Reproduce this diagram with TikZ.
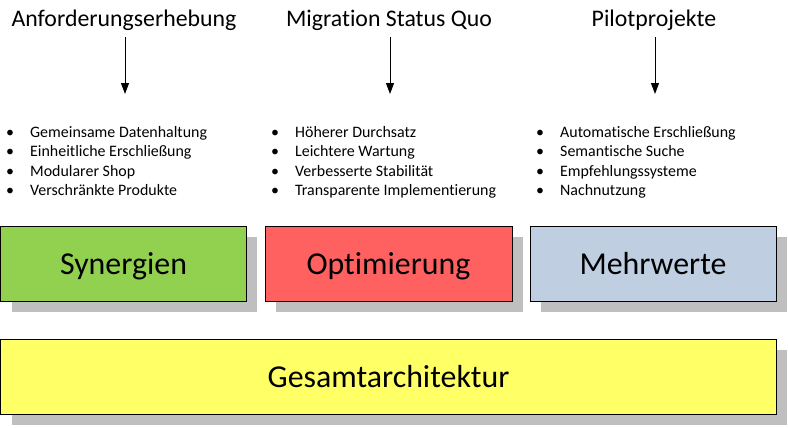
\documentclass[tikz,border=0pt]{standalone}
\usepackage{fontspec}
\setmainfont{Carlito}[Ligatures={NoCommon}]
\usetikzlibrary{arrows.meta,shadows}
\definecolor{cgreen}{HTML}{92D050}
\definecolor{cred}{HTML}{FF6161}
\definecolor{cblue}{HTML}{BFCFE1}
\definecolor{cyellow}{HTML}{FFFF66}
\definecolor{cshadow}{HTML}{BFBFBF}
\tikzset{
  pillar/.style={draw=black, line width=1bp, minimum height=75bp, inner sep=0pt,
    font=\fontsize{32}{36}\selectfont, text height=21bp, text depth=0bp,
    general shadow={fill=cshadow, shadow xshift=11bp, shadow yshift=-11bp}},
  title/.style={font=\fontsize{23.9}{26}\selectfont, inner sep=0pt, anchor=base},
  blist/.style={font=\fontsize{16}{19.5}\selectfont, align=left, anchor=north west, inner sep=0pt},
  arr/.style={-{Triangle[length=11bp,width=8bp]}, line width=1bp}
}
\newcommand{\bl}[1]{\makebox[24bp][l]{•}#1}
\begin{document}
\begin{tikzpicture}[x=1bp,y=-1bp]
\useasboundingbox (0,0) rectangle (788,427);
% titles
\node[title] (t1) at (124,26) {Anforderungserhebung};
\node[title] (t2) at (389,26) {Migration Status Quo};
\node[title] (t3) at (654,26) {Pilotprojekte};
% arrows
\coordinate (a1s) at (125,37); \coordinate (a1e) at (125,94);
\coordinate (a2s) at (390,37); \coordinate (a2e) at (390,94);
\coordinate (a3s) at (655,37); \coordinate (a3e) at (655,94);
\draw[arr] (a1s) -- (a1e);
\draw[arr] (a2s) -- (a2e);
\draw[arr] (a3s) -- (a3e);
% lists
\node[blist] (l1) at (6,126) {\bl{Gemeinsame Datenhaltung}\\\bl{Einheitliche Erschließung}\\\bl{Modularer Shop}\\\bl{Verschränkte Produkte}};
\node[blist] (l2) at (271,126) {\bl{Höherer Durchsatz}\\\bl{Leichtere Wartung}\\\bl{Verbesserte Stabilität}\\\bl{Transparente Implementierung}};
\node[blist] (l3) at (536,126) {\bl{Automatische Erschließung}\\\bl{Semantische Suche}\\\bl{Empfehlungssysteme}\\\bl{Nachnutzung}};
% pillars
\node[pillar, fill=cgreen, minimum width=245bp] (p1) at (123.5,263.5) {Synergien};
\node[pillar, fill=cred, minimum width=247bp] (p2) at (388.5,263.5) {Optimierung};
\node[pillar, fill=cblue, minimum width=246bp] (p3) at (653,263.5) {Mehrwerte};
\node[pillar, fill=cyellow, minimum width=775bp] (base) at (388.5,376.5) {Gesamtarchitektur};
\end{tikzpicture}
\end{document}
